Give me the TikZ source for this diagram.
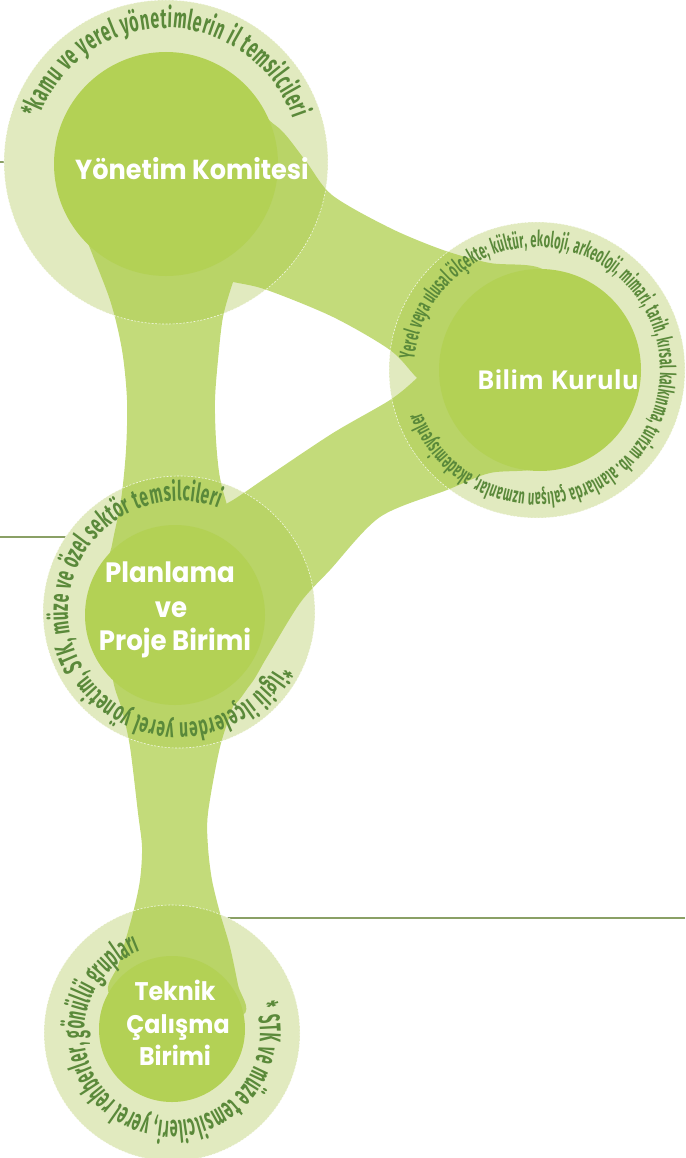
\documentclass[tikz,border=0pt]{standalone}
\usepackage{fontspec}
\usetikzlibrary{decorations.text}
\newfontfamily\titlefont{Poppins}[FakeStretch=0.93]
\newfontfamily\bilimfont{Open Sans}
\newfontfamily\ringA{Fira Sans}[FakeStretch=0.57]
\newfontfamily\ringB{Fira Sans}[FakeStretch=0.50]
\newfontfamily\ringC{Fira Sans}[FakeStretch=0.57]
\newfontfamily\ringD{Fira Sans}[FakeStretch=0.48]
\definecolor{ringlight}{HTML}{E1EABF}
\definecolor{innergreen}{HTML}{B3D155}
\definecolor{bandgreen}{HTML}{A9CC42}
\definecolor{ringtext}{HTML}{5A893A}
\definecolor{olive}{HTML}{8AA065}
\begin{document}
\begin{tikzpicture}[x=1pt,y=1pt,
  outer/.style={fill=ringlight},
  inner/.style={fill=innergreen},
  rim/.style={draw=white, line width=0.6pt, dash pattern=on 2pt off 1.5pt, opacity=0.8},
  band/.style={fill=bandgreen},
  sideline/.style={draw=olive, line width=1.6pt},
  title/.style={text=white, font=\titlefont\bfseries\fontsize{27.5}{30}\selectfont, anchor=base, inner sep=0pt},
  ringtxt/.style={decorate, decoration={text along path, text align={fit to path}, text color=ringtext, text={#1}}},
]
\useasboundingbox (0,0) rectangle (685,-1158);
% centres
\coordinate (ykc) at (166,-162);
\coordinate (yki) at (166,-164);
\coordinate (bkc) at (537,-370);
\coordinate (bki) at (540,-370);
\coordinate (ppc) at (179,-612);
\coordinate (ppi) at (175,-615);
\coordinate (tcc) at (172,-1033);
\coordinate (tci) at (172,-1029);
% side lines
\coordinate (l1a) at (0,-162);   \coordinate (l1b) at (90,-162);
\coordinate (l2a) at (0,-537);   \coordinate (l2b) at (100,-537);
\coordinate (l3a) at (685,-918); \coordinate (l3b) at (200,-918);
\draw[sideline] (l1a) -- (l1b);
\draw[sideline] (l2a) -- (l2b);
\draw[sideline] (l3a) -- (l3b);
% outer rings
\fill[outer] (ykc) circle[radius=162];
\fill[outer] (bkc) circle[radius=148];
\fill[outer] (ppc) circle[radius=136];
\fill[outer] (tcc) circle[radius=128];
% bands
\begin{scope}[transparency group, opacity=0.7]
\fill[band] plot[smooth cycle, tension=0.5] coordinates {
 (72,-190) (85,-235) (110,-300) (122,-350) (127,-400) (126,-450) (121,-500) (112,-545) (105,-590)
 (175,-612) (250,-590) (240,-545) (230,-515) (220,-478) (216,-440) (215,-400) (218,-360) (223,-317) (233,-282) (248,-240) (262,-195)
 (170,-160)};
\fill[band] plot[smooth cycle, tension=0.5] coordinates {
 (230,-110) (275,-125) (305,-160) (332,-195) (390,-228) (443,-250) (490,-263) (540,-268)
 (580,-300) (540,-400) (460,-422) (417,-378) (390,-350) (333,-317) (267,-290) (233,-282) (190,-274) (150,-250)};
\fill[band] plot[smooth cycle, tension=0.5] coordinates {
 (480,-320) (445,-350) (417,-378) (390,-400) (333,-433) (267,-477) (233,-500) (200,-518) (165,-545)
 (195,-640) (226,-706) (250,-685) (267,-657) (300,-603) (330,-570) (380,-517) (447,-490) (490,-473) (540,-468) (585,-440)
 (565,-380)};
\fill[band] plot[smooth cycle, tension=0.5] coordinates {
 (110,-630) (113,-680) (122,-710) (130,-747) (138,-813) (142,-847) (140,-880) (133,-913) (119,-963) (110,-995)
 (172,-1030) (243,-1015) (238,-985) (230,-947) (220,-913) (212,-880) (208,-847) (208,-813) (220,-747) (235,-700) (245,-660)
 (175,-620)};
\end{scope}
% inner circles
\fill[inner] (yki) circle[radius=112];
\fill[inner] (bki) circle[radius=101];
\fill[inner] (ppi) circle[radius=90];
\fill[inner] (tci) circle[radius=73];
% rims
\draw[rim] (ykc) circle[radius=162];
\draw[rim] (bkc) circle[radius=148];
\draw[rim] (ppc) circle[radius=136];
\draw[rim] (tcc) circle[radius=128];
% ring texts
\path[ringtxt={|\ringA\bfseries\fontsize{28}{28}\selectfont|*kamu ve yerel yönetimlerin il temsilcileri}]
  ([shift={(161:134)}]ykc) arc[start angle=161, end angle=19, radius=134];
\path[ringtxt={|\ringB\bfseries\fontsize{22}{22}\selectfont|Yerel veya ulusal ölçekte; kültür, ekoloji, arkeoloji, mimari, tarih, kırsal kalkınma, turizm vb. alanlarda çalışan uzmanlar, akademisyenler}]
  ([shift={(175:123)}]bkc) arc[start angle=175, end angle=-160, radius=123];
\path[ringtxt={|\ringC\bfseries\fontsize{27}{27}\selectfont|*ilgili ilçelerden yerel yönetim, STK, müze ve özel sektör temsilcileri}]
  ([shift={(-28:111)}]ppc) arc[start angle=-28, end angle=-291, radius=111];
\path[ringtxt={|\ringD\bfseries\fontsize{30}{30}\selectfont|* STK ve müze temsilcileri, yerel rehberler, gönüllü grupları}]
  ([shift={(18:88)}]tcc) arc[start angle=18, end angle=-249, radius=88];
% titles
\node[title] (yk) at (192,-180) {Yönetim Komitesi};
\node[title, font=\bilimfont\bfseries\fontsize{26}{30}\selectfont] (bk) at (558,-389) {Bilim Kurulu};
\node[title, font=\titlefont\bfseries\fontsize{28}{30}\selectfont] (p1) at (170,-582) {Planlama};
\node[title, font=\titlefont\bfseries\fontsize{28}{30}\selectfont] (p2) at (171,-617) {ve};
\node[title, font=\titlefont\bfseries\fontsize{28}{30}\selectfont] (p3) at (175,-650) {Proje Birimi};
\node[title, font=\titlefont\bfseries\fontsize{25.5}{30}\selectfont] (t1) at (175,-1000) {Teknik};
\node[title, font=\titlefont\bfseries\fontsize{25.5}{30}\selectfont] (t2) at (178,-1033) {Çalışma};
\node[title, font=\titlefont\bfseries\fontsize{25.5}{30}\selectfont] (t3) at (175,-1065) {Birimi};
\end{tikzpicture}
\end{document}
